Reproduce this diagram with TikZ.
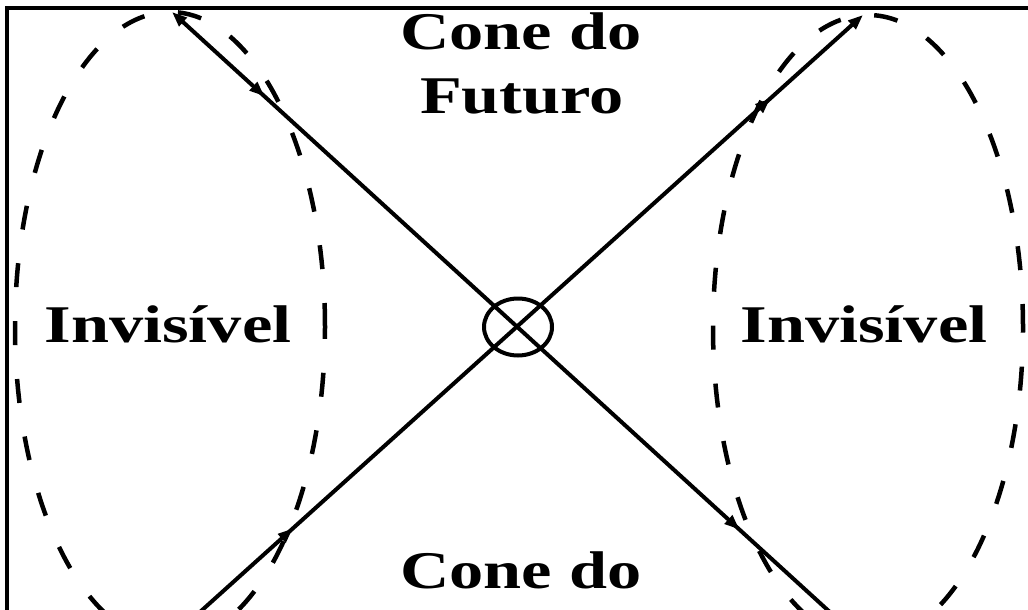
\documentclass[tikz,border=0pt]{standalone}
\usepackage{fontspec}
\setmainfont{Liberation Serif}
\usetikzlibrary{shapes.geometric,decorations.markings,arrows.meta}
\begin{document}
\begin{tikzpicture}[x=1pt,y=-1pt,
  dashring/.style={draw, ellipse, dash pattern=on 24pt off 34pt, line width=4.5pt, inner sep=0pt},
  ray/.style={line width=4pt,
    postaction={decorate, decoration={markings,
      mark=at position 0.14 with {\arrow{Triangle[length=15pt,width=11pt]}},
      mark=at position 0.86 with {\arrow{Triangle[length=15pt,width=11pt]}}}}},
  lbl/.style={font=\fontsize{53}{62}\selectfont\bfseries, inner sep=0pt, align=center, xscale=1.29},
  frame/.style={line width=4pt}]
\useasboundingbox (0,0) rectangle (1028,610);
\clip (0,0) rectangle (1028,610);
\fill[white] (0,0) rectangle (1028,610);
% dashed ellipses
\node[dashring, minimum width=310pt, minimum height=630pt] (L) at (170,327) {};
\node[dashring, minimum width=310pt, minimum height=626pt] (R) at (868,328) {};
% light rays
\coordinate (a1) at (172,12);
\coordinate (a2) at (832,614);
\coordinate (b1) at (200,612);
\coordinate (b2) at (863,15);
\draw[ray, {Triangle[length=15pt,width=11pt]}-] (a1) -- (a2);
\draw[ray, -{Triangle[length=15pt,width=11pt]}] (b1) -- (b2);
% event circle
\node[draw, ellipse, line width=4pt, minimum width=68pt, minimum height=57pt, inner sep=0pt] (E) at (518,327) {};
% labels
\node[lbl, anchor=base] (fut1) at (521,50) {Cone do};
\node[lbl, anchor=base] (fut2) at (522,113) {Futuro};
\node[lbl, anchor=base] (pas) at (521,588) {Cone do};
\node[lbl, anchor=base] (invL) at (168,342) {Invisível};
\node[lbl, anchor=base] (invR) at (864,342) {Invisível};
% frame
\draw[frame] (7,612) -- (7,8) -- (1030,8);
\end{tikzpicture}
\end{document}
